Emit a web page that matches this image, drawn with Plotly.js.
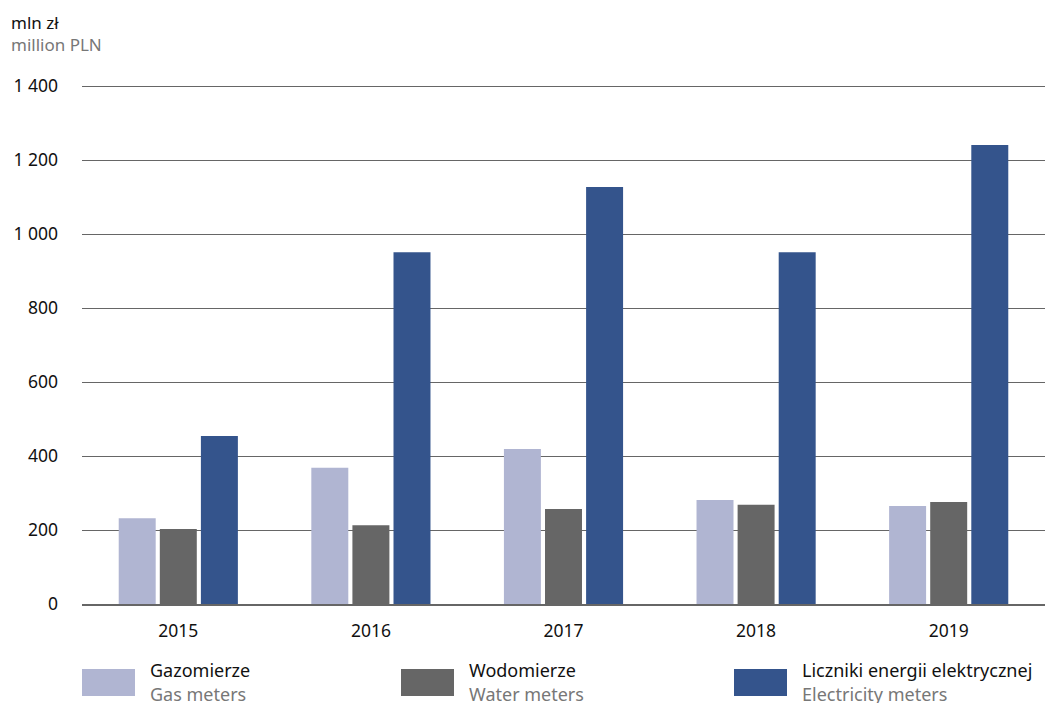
<!DOCTYPE html>
<html>
<head>
<meta charset="utf-8">
<script src="https://cdn.plot.ly/plotly-3.0.1.min.js"></script>
<style>html,body{margin:0;padding:0;background:#fff;}#chart{width:1048px;height:703px;}</style>
</head>
<body>
<div id="chart"></div>
<script>
const years = ["2015", "2016", "2017", "2018", "2019"];
const gasMeters = [232, 368, 419, 281, 265];
const waterMeters = [203, 213, 257, 268, 276];
const electricityMeters = [454, 951, 1127, 951, 1241];
const seriesPl = ["Gazomierze", "Wodomierze", "Liczniki energii elektrycznej"];
const seriesEn = ["Gas meters", "Water meters", "Electricity meters"];
const colors = ["#b0b5d2", "#666666", "#34548c"];
const tickValues = [0, 200, 400, 600, 800, 1000, 1200, 1400];

const FONT = "'Noto Sans', 'Open Sans', sans-serif";
const series = [gasMeters, waterMeters, electricityMeters];
const traces = series.map((vals, i) => ({
  type: "bar",
  x: years,
  y: vals,
  name: seriesPl[i],
  marker: {color: colors[i]},
  hoverinfo: "y"
}));

const PL = 82, PW = 963, PB = 604, PT = 85, PH = PB - PT;
const px2x = p => (p - PL) / PW;
const py2y = p => (PB - p) / PH;
const legendX = [82, 401, 734];
const shapes = [];
const annotations = [
  {xref: "paper", yref: "paper", x: px2x(9), y: py2y(22), xanchor: "left", yanchor: "middle",
   text: "mln zł", showarrow: false, font: {family: FONT, size: 17, color: "#111"}},
  {xref: "paper", yref: "paper", x: px2x(9), y: py2y(45), xanchor: "left", yanchor: "middle",
   text: "million PLN", showarrow: false, font: {family: FONT, size: 17, color: "#777"}}
];
legendX.forEach((lx, i) => {
  shapes.push({type: "rect", xref: "paper", yref: "paper",
    x0: px2x(lx), x1: px2x(lx + 53), y0: py2y(696), y1: py2y(669),
    fillcolor: colors[i], line: {width: 0}});
  annotations.push({xref: "paper", yref: "paper", x: px2x(lx + 66), y: py2y(670),
    xanchor: "left", yanchor: "middle", text: seriesPl[i], showarrow: false,
    font: {family: FONT, size: 18, color: "#111"}});
  annotations.push({xref: "paper", yref: "paper", x: px2x(lx + 66), y: py2y(694),
    xanchor: "left", yanchor: "middle", text: seriesEn[i], showarrow: false,
    font: {family: FONT, size: 18, color: "#777"}});
});

const layout = {
  width: 1048, height: 703,
  margin: {l: PL, r: 1048 - PL - PW, t: PT, b: 703 - PB, pad: 0},
  paper_bgcolor: "#fff", plot_bgcolor: "#fff",
  separators: ", ",
  barmode: "group",
  bargap: 0.36,
  bargroupgap: 0.1,
  showlegend: false,
  font: {family: FONT, size: 17, color: "#111"},
  xaxis: {type: "category", showgrid: false, showline: true, linecolor: "#666", linewidth: 1.5,
    ticks: "", tickfont: {family: FONT, size: 17.5, color: "#111"}, ticklabelstandoff: 10},
  yaxis: {range: [0, 1403], tickvals: tickValues, tickformat: ",d", showgrid: true,
    gridcolor: "#666", gridwidth: 1, zeroline: false, showline: false, ticks: "",
    tickfont: {family: FONT, size: 17.5, color: "#111"}, ticklabelstandoff: 23},
  shapes: shapes,
  annotations: annotations
};
Plotly.newPlot("chart", traces, layout, {displayModeBar: false, staticPlot: true});
</script>
</body>
</html>
